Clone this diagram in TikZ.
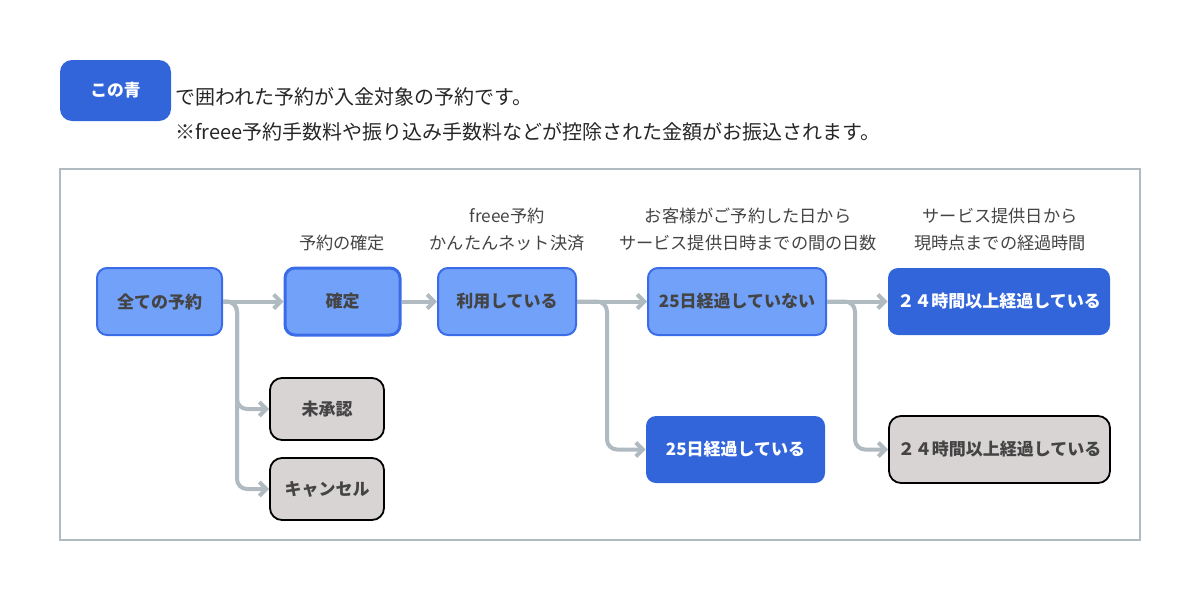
\documentclass[tikz,border=0pt]{standalone}
\usepackage{fontspec}
\setmainfont{Noto Sans CJK JP}
\usepackage{xcolor}
\usepackage{tikz}
\usetikzlibrary{arrows.meta,positioning,calc}

\definecolor{lightblue}{HTML}{72A1F9}
\definecolor{edgeblue}{HTML}{3A6CE8}
\definecolor{darkblue}{HTML}{3265DA}
\definecolor{lightgray}{HTML}{D8D4D4}
\definecolor{linegray}{HTML}{B0BAC1}
\definecolor{textgray}{HTML}{444444}

\tikzset{
    stagebox/.style={draw=edgeblue, line width=1pt, fill=lightblue, rounded corners=5pt,
        text=textgray, font=\fontsize{8.5}{10}\selectfont\bfseries, inner sep=0pt,
        minimum height=33.5pt},
    paidbox/.style={fill=darkblue, rounded corners=5pt, text=white,
        font=\fontsize{8.5}{10}\selectfont\bfseries, inner sep=0pt, minimum height=33.5pt},
    otherbox/.style={draw=black, line width=0.9pt, fill=lightgray, rounded corners=6pt,
        text=textgray, font=\fontsize{8.5}{10}\selectfont\bfseries, inner sep=0pt},
    steplabel/.style={align=center, text=textgray, font=\fontsize{8.6}{13.5}\selectfont},
    flow/.style={draw=linegray, line width=2pt, rounded corners=5pt,
        -{Straight Barb[length=3.5pt,width=7pt]}}
}

\begin{document}
\begin{tikzpicture}[x=0.5pt, y=-0.5pt]
    \useasboundingbox (0,0) rectangle (1200,600);

    % legend
    \node[fill=darkblue, rounded corners=6pt, minimum width=55.5pt, minimum height=30.5pt,
        inner sep=0pt, text=white, font=\fontsize{8.4}{10}\selectfont\bfseries] (legend) at (115.5,90.5) {この青};
    \node[anchor=west, inner sep=0pt, text=black!85, font=\fontsize{10}{12}\selectfont] (note1) at (175,97) {で囲われた予約が入金対象の予約です。};
    \node[anchor=west, inner sep=0pt, text=black!85, font=\fontsize{10}{12}\selectfont] (note2) at (175,132) {※freee予約手数料や振り込み手数料などが控除された金額がお振込されます。};

    % frame
    \draw[linegray, line width=1pt] (60,169) rectangle (1140,540);

    % step labels
    \node[steplabel] (lab1) at (342,243) {予約の確定};
    \node[steplabel] (lab2) at (507,229.5) {freee予約\\かんたんネット決済};
    \node[steplabel] (lab3) at (748,229.5) {お客様がご予約した日から\\サービス提供日時までの間の日数};
    \node[steplabel] (lab4) at (1000,229.5) {サービス提供日から\\現時点までの経過時間};

    % main row
    \node[stagebox, minimum width=62.5pt] (all) at (159.5,301.5) {全ての予約};
    \node[stagebox, minimum width=57.5pt, line width=1.5pt] (confirmed) at (342.5,301.5) {確定};
    \node[stagebox, minimum width=69pt] (using) at (507,301.5) {利用している};
    \node[stagebox, minimum width=89pt] (before25) at (737,301.5) {25日経過していない};
    \node[paidbox, minimum width=111pt] (paid24) at (999,301.5) {２４時間以上経過している};

    % lower boxes
    \node[otherbox, minimum width=57pt, minimum height=31pt] (pending) at (327,409) {未承認};
    \node[otherbox, minimum width=57pt, minimum height=31pt] (cancel) at (327,489) {キャンセル};
    \node[paidbox, minimum width=89.5pt] (after25) at (735.5,449.5) {25日経過している};
    \node[otherbox, minimum width=110.5pt, minimum height=33.5pt] (gray24) at (999.5,449.5) {２４時間以上経過している};

    % branch points
    \coordinate (b1) at (237,0);
    \coordinate (b2) at (607,0);
    \coordinate (b3) at (855,0);

    % connectors
    \draw[flow] (all.east) -- (confirmed.west);
    \draw[flow] (all.east) -| (b1 |- pending.west) -- (pending.west);
    \draw[flow] (all.east) -| (b1 |- cancel.west) -- (cancel.west);
    \draw[flow] (confirmed.east) -- (using.west);
    \draw[flow] (using.east) -- (before25.west);
    \draw[flow] (using.east) -| (b2 |- after25.west) -- (after25.west);
    \draw[flow] (before25.east) -- (paid24.west);
    \draw[flow] (before25.east) -| (b3 |- gray24.west) -- (gray24.west);
\end{tikzpicture}
\end{document}
